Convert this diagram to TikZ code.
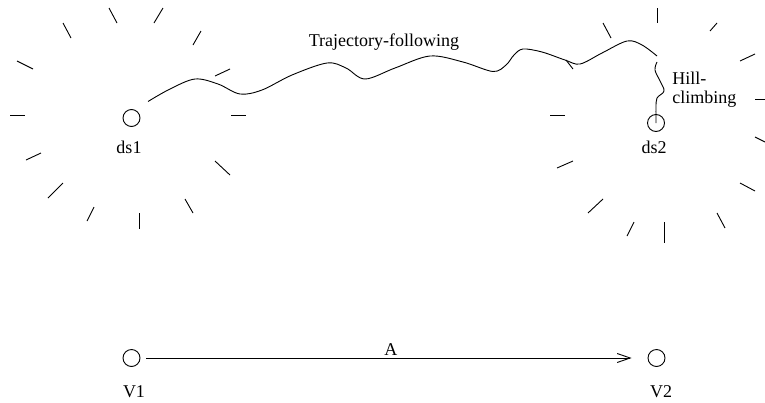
\documentclass[tikz,border=0pt]{standalone}
\usepackage{fontspec}
\setmainfont{Liberation Serif}
\usetikzlibrary{arrows.meta}
\begin{document}
\begin{tikzpicture}[x=1pt,y=-1pt,line width=0.9pt,
  vtx/.style={circle,draw,minimum size=17pt,inner sep=0pt},
  lbl/.style={font=\fontsize{18}{19.5}\selectfont,inner sep=0pt},
  tickmark/.style={line width=0.9pt}]
\useasboundingbox (0,0) rectangle (765,402);
% vertices
\node[vtx] (ds1) at (131.5,118) {};
\node[vtx] (ds2) at (656,123) {};
\node[vtx] (V1) at (131.5,358) {};
\node[vtx] (V2) at (656.5,358) {};
% labels
\node[lbl,anchor=base] (ds1l) at (129,153) {ds1};
\node[lbl,anchor=base] (ds2l) at (654,153) {ds2};
\node[lbl,anchor=base] (V1l) at (134,397) {V1};
\node[lbl,anchor=base] (V2l) at (661,397) {V2};
\node[lbl,anchor=base] (traj) at (384,46.5) {Trajectory-following};
\node[lbl,anchor=north west,align=left] (hill) at (672,71.5) {Hill-\\climbing};
% ticks around ds1
\foreach \xa/\ya/\xb/\yb in {109/8/117/23,154/23/163/8,63/23/71/38,193/45/201/31,
  17/61/33/69,215/76/230/69,10/115/25/115,231/115/246/115,
  26/160/41/153,215/161/230/175,48/198/63/183,185/199/193/213,
  87/221/94/207,139/213/139/229}
  \draw[tickmark] (\xa,\ya) -- (\xb,\yb);
% ticks around ds2
\foreach \xa/\ya/\xb/\yb in {657/8/657/23,710/31/717/23,603/23/611/38,740/61/755/54,
  755/99/765/99,550/115/565/115,755/137/765/142,557/168/573/161,
  740/183/755/191,588/213/603/199,717/213/725/228,627/236/634/222,
  664/222/664/243,566/60/573/69}
  \draw[tickmark] (\xa,\ya) -- (\xb,\yb);
% trajectory-following path
\coordinate (ts) at (148,101.5);
\coordinate (te) at (657,56);
\draw plot[smooth,tension=0.55] coordinates {(ts) (170,89) (195,79) (218,84) (240,94)
  (262,90) (292,75) (327,63) (346,68) (365,79) (395,68) (430,56) (463,62) (493,71.5)
  (506,65) (514,55) (523,49) (542,52) (565,60) (580,64) (602,53) (627,41) (642,45) (te)};
% hill-climbing path
\coordinate (hs) at (657,62);
\draw plot[smooth,tension=0.6] coordinates {(hs) (655,70) (660,81) (664,91) (657,98)
  (656,107) (656,114)} -- (ds2.center);
% arrow A
\draw[-{Straight Barb[length=13pt,width=9pt]},shorten <=6pt,shorten >=16pt] (V1) -- (V2)
  node[lbl,pos=0.494,anchor=base,yshift=3pt] (A) {A};
\end{tikzpicture}
\end{document}
